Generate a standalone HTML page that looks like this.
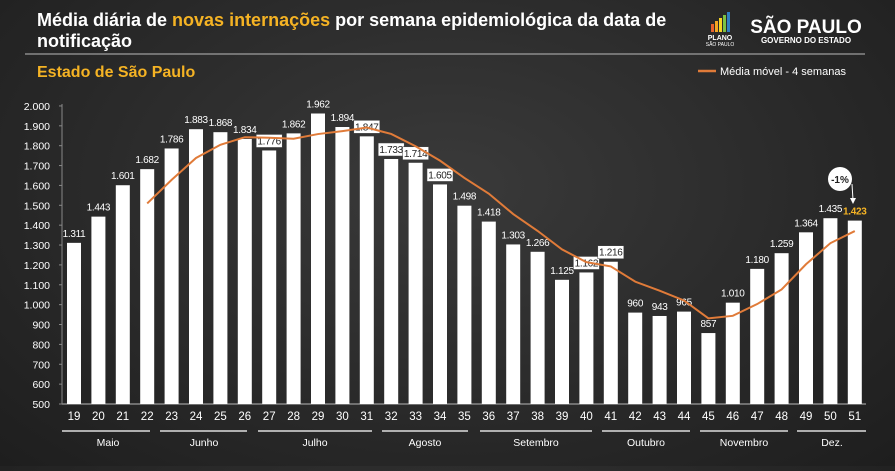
<!DOCTYPE html>
<html><head><meta charset="utf-8"><style>
body{margin:0;width:895px;height:466px;overflow:hidden;background:radial-gradient(ellipse at 50% 40%,#3a3a3a,#262626 70%,#1e1e1e);font-family:"Liberation Sans",sans-serif;}
</style></head><body>
<svg width="895" height="466" xmlns="http://www.w3.org/2000/svg" font-family="Liberation Sans, sans-serif">
<text x="37" y="26" fill="#fff" font-size="18" font-weight="bold">Média diária de <tspan fill="#f5b324">novas internações</tspan> por semana epidemiológica da data de</text>
<text x="37" y="47" fill="#fff" font-size="18" font-weight="bold">notificação</text>
<line x1="25" y1="54" x2="865" y2="54" stroke="#bbb" stroke-width="1"/>
<g>
<rect x="711" y="24" width="3" height="8" fill="#e8622c"/><rect x="715" y="21" width="3" height="11" fill="#f5a623"/><rect x="719" y="18" width="3" height="14" fill="#f5d323"/><rect x="723" y="15" width="3" height="17" fill="#7cc242"/><rect x="727" y="12" width="3" height="20" fill="#2f7fc1"/>
<text x="720" y="40" fill="#fff" font-size="7" text-anchor="middle" font-weight="bold">PLANO</text>
<text x="720" y="46" fill="#fff" font-size="5" text-anchor="middle">SÃO PAULO</text>
<text x="806" y="33" fill="#fff" font-size="19" font-weight="bold" text-anchor="middle">SÃO PAULO</text>
<text x="806" y="43" fill="#fff" font-size="8" font-weight="bold" text-anchor="middle">GOVERNO DO ESTADO</text>
</g>
<text x="37" y="77" fill="#f5b324" font-size="16" font-weight="bold">Estado de São Paulo</text>
<line x1="698" y1="71" x2="716" y2="71" stroke="#e07b39" stroke-width="2.5"/>
<text x="720" y="75" fill="#fff" font-size="11">Média móvel - 4 semanas</text>
<g font-size="10.5" fill="#fff" text-anchor="end" id="yax"></g>
<line x1="62" y1="104" x2="62" y2="404" stroke="#888"/>
<line x1="62" y1="404" x2="866" y2="404" stroke="#888" stroke-width="1.5"/>
<g id="bars"></g>
<polyline id="ma" fill="none" stroke="#e07b39" stroke-width="2"/>
<g stroke="#ddd" stroke-width="1.5">
<line x1="62" y1="431" x2="150" y2="431"/><line x1="160" y1="431" x2="247" y2="431"/><line x1="258" y1="431" x2="372" y2="431"/><line x1="382" y1="431" x2="468" y2="431"/><line x1="480" y1="431" x2="592" y2="431"/><line x1="602" y1="431" x2="690" y2="431"/><line x1="700" y1="431" x2="788" y2="431"/><line x1="797" y1="431" x2="866" y2="431"/>
</g>
<g fill="#fff" font-size="10.5" text-anchor="middle">
<text x="108" y="446">Maio</text><text x="204" y="446">Junho</text><text x="315" y="446">Julho</text><text x="425" y="446">Agosto</text><text x="536" y="446">Setembro</text><text x="646" y="446">Outubro</text><text x="744" y="446">Novembro</text><text x="832" y="446">Dez.</text>
</g>
<circle cx="840" cy="179" r="12" fill="#fff"/>
<text x="840" y="183" font-size="10" font-weight="bold" text-anchor="middle" fill="#222">-1%</text>
<line x1="852" y1="184" x2="853" y2="200" stroke="#fff" stroke-width="1"/>
<polygon points="850,198 856,198 853,204" fill="#fff"/>
</svg>
<script>
const NS="http://www.w3.org/2000/svg";
const vals=[1311,1443,1601,1682,1786,1883,1868,1834,1776,1862,1962,1894,1847,1733,1714,1605,1498,1418,1303,1266,1125,1162,1216,960,943,965,857,1010,1180,1259,1364,1435,1423];
const boxed={1776:1,1847:1,1733:1,1714:1,1605:1,1162:1,1216:1};
const Y=v=>404-(v-500)*0.1987;
const X=i=>74+i*24.4;
const fmt=v=>v>=1000?(String(v).slice(0,1)+"."+String(v).slice(1)):String(v);
const ya=document.getElementById("yax");
for(let v=500;v<=2000;v+=100){const t=document.createElementNS(NS,"text");t.setAttribute("x",50);t.setAttribute("y",Y(v)+4);t.textContent=fmt(v);ya.appendChild(t);
const l=document.createElementNS(NS,"line");l.setAttribute("x1",59);l.setAttribute("x2",62);l.setAttribute("y1",Y(v));l.setAttribute("y2",Y(v));l.setAttribute("stroke","#888");ya.parentNode.appendChild(l);}
const g=document.getElementById("bars");
vals.forEach((v,i)=>{const x=X(i);
const r=document.createElementNS(NS,"rect");r.setAttribute("x",x-7);r.setAttribute("width",14);r.setAttribute("y",Y(v));r.setAttribute("height",404-Y(v));r.setAttribute("fill","#fff");g.appendChild(r);
const w=document.createElementNS(NS,"text");w.setAttribute("x",x);w.setAttribute("y",420);w.setAttribute("fill","#fff");w.setAttribute("font-size","11.5");w.setAttribute("text-anchor","middle");w.textContent=19+i;g.appendChild(w);
const ly=Y(v)-6;
if(boxed[v]){const b=document.createElementNS(NS,"rect");b.setAttribute("x",x-13);b.setAttribute("y",ly-10);b.setAttribute("width",26);b.setAttribute("height",13);b.setAttribute("fill","#fff");b.setAttribute("stroke","#444");b.setAttribute("stroke-width","0.5");g.appendChild(b);}
const t=document.createElementNS(NS,"text");t.setAttribute("x",x);t.setAttribute("y",ly);t.setAttribute("font-size","10");t.setAttribute("letter-spacing","-0.3");t.setAttribute("text-anchor","middle");
t.setAttribute("fill",boxed[v]?"#222":(i==32?"#f5b324":"#fff"));if(i==32)t.setAttribute("font-weight","bold");
t.textContent=fmt(v);g.appendChild(t);});
let pts=[];for(let i=3;i<vals.length;i++){const a=(vals[i]+vals[i-1]+vals[i-2]+vals[i-3])/4;pts.push(X(i)+","+Y(a));}
document.getElementById("ma").setAttribute("points",pts.join(" "));
</script>
</body></html>
